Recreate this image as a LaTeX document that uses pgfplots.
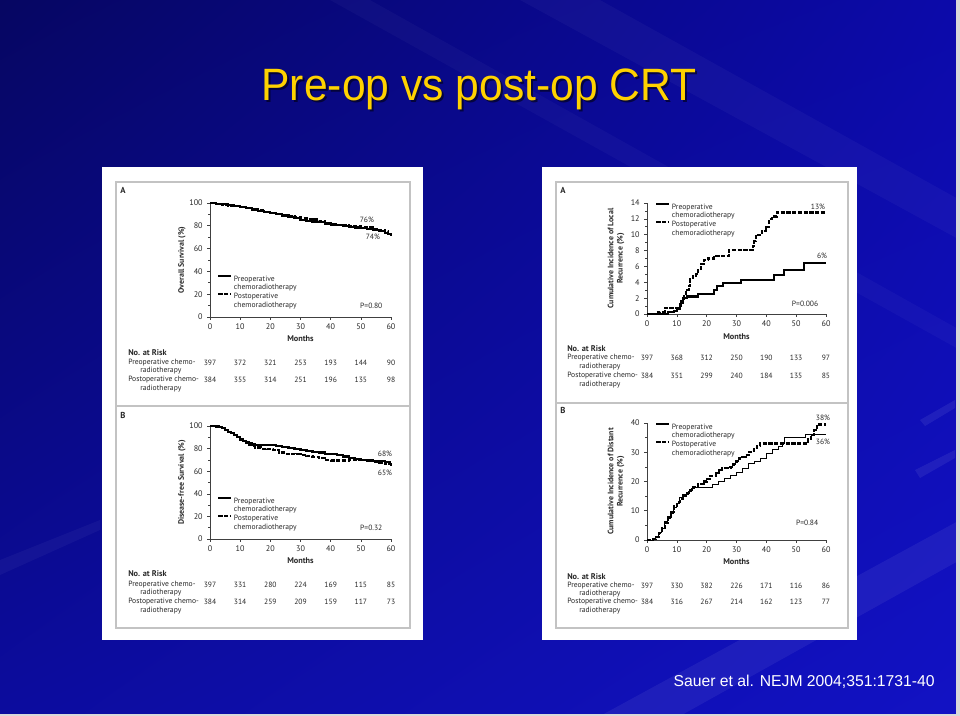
\documentclass[border=0pt]{standalone}
\usepackage{pgfplots}
\pgfplotsset{compat=1.18}
\usetikzlibrary{shadings}
\usepackage{fontspec}
\setmainfont{PT Sans}
\newfontfamily\arialfont{Liberation Sans}
\definecolor{titleyellow}{RGB}{255,210,0}
\definecolor{framegray}{RGB}{195,195,195}
\definecolor{txt}{RGB}{40,40,40}
\definecolor{bgul}{RGB}{6,6,98}
\definecolor{bgur}{RGB}{12,10,170}
\definecolor{bgll}{RGB}{12,12,158}
\definecolor{bglr}{RGB}{18,18,196}

\newcommand\fs{\fontsize{5.7}{6.6}\selectfont}
\newcommand\fst{\fontsize{6.1}{7}\selectfont}

\pgfplotsset{
  km/.style={
    scale only axis,
    anchor=south west,
    axis lines*=left,
    xmin=0,xmax=60,
    xtick={0,10,...,60},
    minor y tick num=1,
    tick align=outside,
    major tick length=2pt,
    minor tick length=1.2pt,
    tick style={black!75, line width=0.45pt},
    axis line style={black!75, line width=0.55pt},
    ticklabel style={font=\fst, text=txt},
    xticklabel style={yshift=0.5pt},
    /pgf/number format/assume math mode=true,
    xlabel={Months},
    xlabel style={font=\fontsize{6.2}{7}\selectfont\bfseries, text=txt, anchor=center},
    ylabel style={font=\fontsize{5.9}{6.8}\selectfont\bfseries, text=txt, align=center, anchor=center},
    clip=false,
    legend cell align=left,
    legend image code/.code={\draw[##1] (0pt,0.45ex) -- (9.5pt,0.45ex);},
    legend style={draw=none, fill=none, inner sep=0pt, font=\fs, text=txt,
      row sep=0pt, column sep=1pt,
      nodes={inner sep=0.4pt, text height=4.4pt, text depth=1.4pt}},
  },
  pre/.style={black, line width=1.6pt},
  post/.style={black, line width=1.6pt, dash pattern=on 3.2pt off 1.1pt},
}

\begin{document}
\begin{tikzpicture}
\begin{scope}[x=0.75pt,y=-0.75pt]
\path[use as bounding box] (0,0) rectangle (960,716);
\shade[upper left=bgul, upper right=bgur, lower left=bgll, lower right=bglr]
       (0,0) rectangle (960,716);
% light streaks
\fill[white,opacity=0.035] (520,0) -- (600,0) -- (960,200) -- (960,240) -- cycle;
\fill[white,opacity=0.03] (330,0) -- (370,0) -- (960,330) -- (960,350) -- cycle;
\fill[white,opacity=0.06] (600,716) -- (960,520) -- (960,560) -- (680,716) -- cycle;
\fill[white,opacity=0.07] (920,420) -- (955,400) -- (955,408) -- (925,426) -- cycle;
\fill[white,opacity=0.07] (915,470) -- (955,450) -- (955,458) -- (920,478) -- cycle;
\fill[white,opacity=0.04] (0,560) -- (100,520) -- (100,530) -- (0,575) -- cycle;
% slide edges
\fill[black!15] (956,0) rectangle (960,716);
\fill[black!15] (0,714) rectangle (960,716);
% panels
\fill[white] (102,167) rectangle (423,640);
\fill[white] (542,167) rectangle (857,640);
\draw[framegray, line width=0.9pt] (116,182) rectangle (410,628);
\draw[framegray, line width=0.9pt] (116,406) -- (410,406);
\draw[framegray, line width=0.9pt] (556,182) rectangle (848,628);
\draw[framegray, line width=0.9pt] (556,403) -- (848,403);
% title
\node[anchor=base, xscale=0.94, text=black, opacity=0.55, font=\arialfont\fontsize{34}{40}\selectfont] at (481,103) {Pre-op vs post-op CRT};
\node[anchor=base, xscale=0.94, text=titleyellow, font=\arialfont\fontsize{34}{40}\selectfont] at (479,101) {Pre-op vs post-op CRT};
% citation
\node[anchor=base east, text=white, inner sep=0pt, font=\arialfont\fontsize{11.8}{14}\selectfont] at (935,686) {Sauer et al. NEJM 2004;351:1731-40};
% panel letters
\begin{scope}[every node/.style={font=\fontsize{6.5}{7}\selectfont\bfseries, text=txt, inner sep=0pt}]
\node at (123,190) {A};
\node at (123,415) {B};
\node at (563,190) {A};
\node at (563,410) {B};
\end{scope}
% number at risk tables
\begin{scope}[every node/.style={font=\fs, text=txt, inner sep=0pt}]
% left A
\node[anchor=west, font=\fontsize{6.2}{7}\selectfont\bfseries] at (128,353) {No. at Risk};
\node[anchor=west] at (128,363) {Preoperative chemo-};
\node[anchor=west] at (140,371) {radiotherapy};
\node[anchor=west] at (128,380) {Postoperative chemo-};
\node[anchor=west] at (140,389) {radiotherapy};
\foreach \v [count=\i from 0] in {397,372,321,253,193,144,90} \node at ({210+\i*30.17},363) {\v};
\foreach \v [count=\i from 0] in {384,355,314,251,196,135,98} \node at ({210+\i*30.17},380) {\v};
% left B
\node[anchor=west, font=\fontsize{6.2}{7}\selectfont\bfseries] at (128,574) {No. at Risk};
\node[anchor=west] at (128,585) {Preoperative chemo-};
\node[anchor=west] at (140,593) {radiotherapy};
\node[anchor=west] at (128,602) {Postoperative chemo-};
\node[anchor=west] at (140,611) {radiotherapy};
\foreach \v [count=\i from 0] in {397,331,280,224,169,115,85} \node at ({210+\i*30.17},585) {\v};
\foreach \v [count=\i from 0] in {384,314,259,209,159,117,73} \node at ({210+\i*30.17},602) {\v};
% right A
\node[anchor=west, font=\fontsize{6.2}{7}\selectfont\bfseries] at (567,349) {No. at Risk};
\node[anchor=west] at (567,358) {Preoperative chemo-};
\node[anchor=west] at (579,367) {radiotherapy};
\node[anchor=west] at (567,376) {Postoperative chemo-};
\node[anchor=west] at (579,385) {radiotherapy};
\foreach \v [count=\i from 0] in {397,368,312,250,190,133,97} \node at ({647+\i*29.83},358) {\v};
\foreach \v [count=\i from 0] in {384,351,299,240,184,135,85} \node at ({647+\i*29.83},376) {\v};
% right B
\node[anchor=west, font=\fontsize{6.2}{7}\selectfont\bfseries] at (567,577) {No. at Risk};
\node[anchor=west] at (567,586) {Preoperative chemo-};
\node[anchor=west] at (579,594) {radiotherapy};
\node[anchor=west] at (567,602) {Postoperative chemo-};
\node[anchor=west] at (579,611) {radiotherapy};
\foreach \v [count=\i from 0] in {397,330,382,226,171,116,86} \node at ({647+\i*29.83},586) {\v};
\foreach \v [count=\i from 0] in {384,316,267,214,162,123,77} \node at ({647+\i*29.83},602) {\v};
\end{scope}
\end{scope}

% ---------- Left A: overall survival
\begin{axis}[km, at={(157.5pt,-237.75pt)}, width=135.75pt, height=85.5pt,
  ymin=0, ymax=100, ytick={0,20,...,100},
  ylabel={Overall Survival (\%)},
  ylabel style={at={(axis description cs:-0.155,0.5)}},
  xlabel style={at={(axis description cs:0.5,-0.193)}},
  legend style={at={(axis description cs:0.039,0.373)}, anchor=north west}]
\addlegendimage{pre}\addlegendentry{Preoperative}
\addlegendimage{empty legend}\addlegendentry{chemoradiotherapy}
\addlegendimage{post}\addlegendentry{Postoperative}
\addlegendimage{empty legend}\addlegendentry{chemoradiotherapy}
\addplot[pre, const plot, forget plot] coordinates {(0,100)(2,99.5)(4,98.8)(6,98)(8,97.5)(10,96.5)(12,95.5)(14,94.3)(16,93)(18,92)(20,91)(22,90)(24,89)(26,88)(28,86.8)(30,85.2)(32,84.3)(34,83.5)(36,83)(38,82)(40,81)(42,80.5)(44,80)(46,79.3)(48,78.5)(50,77.8)(52,77)(54,76.3)(56,75.5)(58,74)(59,73)(60,72)};
\addplot[post, const plot, forget plot] coordinates {(0,100)(2,99)(4,98.5)(6,97.8)(8,97.3)(10,96.5)(12,95.5)(14,94.5)(16,93.5)(18,92.3)(20,91.2)(22,90.3)(24,89.3)(26,88.5)(28,87.5)(30,86.5)(32,86)(34,85.5)(36,84)(38,82.5)(40,81.5)(42,81)(44,80.5)(46,80)(48,79.5)(50,79)(52,78.5)(54,77.5)(56,76.5)(58,75)(59,73)(60,71)};
\node[font=\fs, text=txt] at (axis description cs:0.867,0.851) {76\%};
\node[font=\fs, text=txt] at (axis description cs:0.90,0.70) {74\%};
\node[font=\fs, text=txt, anchor=east] at (axis description cs:0.978,0.096) {P=0.80};
\end{axis}

% ---------- Left B: disease-free survival
\begin{axis}[km, at={(157.5pt,-404.25pt)}, width=135.75pt, height=84.75pt,
  ymin=0, ymax=100, ytick={0,20,...,100},
  ylabel={Disease-free Survival (\%)},
  ylabel style={at={(axis description cs:-0.155,0.5)}},
  xlabel style={at={(axis description cs:0.5,-0.195)}},
  legend style={at={(axis description cs:0.039,0.376)}, anchor=north west}]
\addlegendimage{pre}\addlegendentry{Preoperative}
\addlegendimage{empty legend}\addlegendentry{chemoradiotherapy}
\addlegendimage{post}\addlegendentry{Postoperative}
\addlegendimage{empty legend}\addlegendentry{chemoradiotherapy}
\addplot[pre, const plot, forget plot] coordinates {(0,100)(2,99.5)(3,99)(4,98)(5,96.5)(6,95)(7,93.5)(8,92)(9,90)(10,88)(11,86.5)(12,85.5)(13,84.5)(14,84)(15,83.5)(18,83.5)(20,83)(22,82.5)(24,81.5)(26,80.5)(28,80)(30,79)(32,77.5)(34,77)(36,76.5)(38,75.5)(40,75)(42,74)(44,73)(46,71.5)(48,70.5)(50,70)(52,69.5)(54,69)(56,68.8)(58,68.5)(60,68.5)};
\addplot[post, const plot, forget plot] coordinates {(0,100)(2,99.5)(3,99)(4,98)(5,96.5)(6,95)(7,93.5)(8,92)(9,90)(10,88)(11,86.5)(12,85)(13,83.5)(14,82)(15,81)(17,80)(19,79.5)(21,78.5)(23,76.5)(25,75.5)(28,75)(30,74.5)(32,73.5)(34,72.5)(36,71.5)(38,70)(40,69.5)(44,69.5)(46,70)(48,70)(50,70)(52,69.5)(54,68.5)(56,67.5)(58,66)(60,65)};
\node[font=\fs, text=txt] at (axis description cs:0.967,0.752) {68\%};
\node[font=\fs, text=txt] at (axis description cs:0.967,0.584) {65\%};
\node[font=\fs, text=txt, anchor=east] at (axis description cs:0.978,0.097) {P=0.32};
\end{axis}

% ---------- Right A: local recurrence
\begin{axis}[km, at={(485.25pt,-235.5pt)}, width=134.25pt, height=83.25pt,
  ymin=0, ymax=14, ytick={0,2,...,14},
  ylabel={Cumulative Incidence of Local\\Recurrence (\%)},
  ylabel style={at={(axis description cs:-0.173,0.5)}},
  xlabel style={at={(axis description cs:0.5,-0.207)}},
  legend style={at={(axis description cs:0.045,1.005)}, anchor=north west}]
\addlegendimage{pre}\addlegendentry{Preoperative}
\addlegendimage{empty legend}\addlegendentry{chemoradiotherapy}
\addlegendimage{post}\addlegendentry{Postoperative}
\addlegendimage{empty legend}\addlegendentry{chemoradiotherapy}
\addplot[pre, const plot, forget plot] coordinates {(0,0)(7,0.2)(9,0.4)(10,0.7)(11,1.0)(11.5,1.6)(12,2.0)(13.5,2.2)(17,2.5)(22.5,3.0)(23.5,3.5)(25.5,3.9)(31.5,4.3)(42.5,4.9)(46,5.5)(52.5,6.4)(60,6.4)};
\addplot[post, const plot, forget plot] coordinates {(0,0)(3,0.2)(4.5,0.3)(6,0.8)(10,0.8)(11,1.2)(12,1.8)(12.5,2.5)(13,3)(14,3.5)(14.5,4.5)(15.5,4.8)(16.5,5.0)(17,5.5)(18,6.3)(19,6.8)(20.5,7.0)(22.5,7.3)(27.5,8.1)(35.5,8.6)(36,9.2)(36.5,10.0)(38.5,10.5)(40,11.0)(41,12.0)(42,12.3)(43.5,12.8)(60,12.8)};
\node[font=\fs, text=txt] at (axis description cs:0.955,0.964) {13\%};
\node[font=\fs, text=txt] at (axis description cs:0.978,0.523) {6\%};
\node[font=\fs, text=txt, anchor=east] at (axis description cs:0.983,0.09) {P=0.006};
\end{axis}

% ---------- Right B: distant recurrence
\begin{axis}[km, at={(485.25pt,-405pt)}, width=134.25pt, height=87.75pt,
  ymin=0, ymax=40, ytick={0,10,...,40},
  ylabel={Cumulative Incidence of Distant\\Recurrence (\%)},
  ylabel style={at={(axis description cs:-0.173,0.5)}},
  xlabel style={at={(axis description cs:0.5,-0.188)}},
  legend style={at={(axis description cs:0.045,1.004)}, anchor=north west}]
\addlegendimage{black, line width=1.6pt}\addlegendentry{Preoperative}
\addlegendimage{empty legend}\addlegendentry{chemoradiotherapy}
\addlegendimage{post}\addlegendentry{Postoperative}
\addlegendimage{empty legend}\addlegendentry{chemoradiotherapy}
\addplot[black, line width=0.7pt, const plot, forget plot] coordinates {(0,0)(2,0.5)(3,1)(4,2.5)(5,4)(6,5.5)(7,7.5)(8,9)(9,11)(10,12.5)(11,14.5)(12,15.5)(14,16.5)(15,17.5)(16,18)(21,18)(22,19)(24,20)(26,21)(28,22)(30,23)(32,24.5)(34,26)(36,27)(38,28)(40,29.5)(42,31)(44,32)(45.5,33)(46,35)(52,35)(53,36)(60,36)};
\addplot[post, const plot, forget plot] coordinates {(0,0)(2,0.3)(3,1)(4,2.5)(5,4)(6,6)(7,8)(8,9.5)(9,11.5)(10,13)(11,14)(12,15)(13,16)(14,17)(15,18)(17,19)(19,20)(20,21)(21,22)(23,23)(24,24)(25,24.5)(28,25)(29,26)(30,27)(31,28)(32,28.5)(33,29)(34,30)(35,30.5)(36,31.5)(37,32)(38,33)(53,33)(54,34.5)(55,36)(56,37.5)(57,39.5)(60,39.5)};
\node[font=\fs, text=txt] at (axis description cs:0.983,1.043) {38\%};
\node[font=\fs, text=txt] at (axis description cs:0.983,0.838) {36\%};
\node[font=\fs, text=txt, anchor=east] at (axis description cs:0.983,0.145) {P=0.84};
\end{axis}
\end{tikzpicture}
\end{document}
